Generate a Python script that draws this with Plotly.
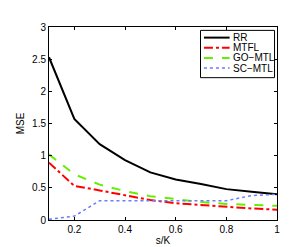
import plotly.graph_objects as go

s_over_K = [0.1, 0.2, 0.3, 0.4, 0.5, 0.6, 0.7, 0.8, 0.9, 1.0]
rr = [2.53, 1.57, 1.18, 0.93, 0.74, 0.63, 0.56, 0.48, 0.44, 0.40]
mtfl = [0.89, 0.53, 0.46, 0.39, 0.31, 0.26, 0.23, 0.20, 0.18, 0.16]
go_mtl = [1.02, 0.71, 0.55, 0.45, 0.37, 0.32, 0.28, 0.25, 0.23, 0.22]
sc_mtl = [0.01, 0.06, 0.30, 0.30, 0.29, 0.30, 0.30, 0.30, 0.38, 0.40]

x_ticks = [0.2, 0.4, 0.6, 0.8, 1.0]
x_tick_labels = ["0.2", "0.4", "0.6", "0.8", "1"]
y_ticks = [0, 0.5, 1, 1.5, 2, 2.5, 3]
y_tick_labels = ["0", "0.5", "1", "1.5", "2", "2.5", "3"]

names = ["RR", "MTFL", "GO\u2212MTL", "SC\u2212MTL"]
series = [rr, mtfl, go_mtl, sc_mtl]
colors = ["#000000", "#ff0000", "#66ee00", "#6a7cff"]
dashes = ["solid", "dashdot", "dash", "dot"]
widths = [2, 2, 2, 1.5]

FONT = "Liberation Sans, Arial, Helvetica, sans-serif"

fig = go.Figure()
for n, ys, c, d, w in zip(names, series, colors, dashes, widths):
    fig.add_trace(go.Scatter(x=s_over_K, y=ys, mode="lines", name=n,
                             line=dict(color=c, dash=d, width=w)))

W, H = 297, 247
ml, mr, mt, mb = 38, 28, 19, 28
pw, ph = W - ml - mr, H - mt - mb

def px(x):
    return (x - ml) / pw

def py(y):
    return 1 - (y - mt) / ph

shapes = [dict(type="rect", xref="paper", yref="paper",
               x0=px(191.5), x1=px(266.5), y0=py(71.5), y1=py(22.5),
               line=dict(color="black", width=1), fillcolor="white")]
annotations = []
rows = [30, 40.5, 51, 61.5]
for n, c, d, w, yy in zip(names, colors, dashes, widths, rows):
    shapes.append(dict(type="line", xref="paper", yref="paper",
                       x0=px(195), x1=px(221), y0=py(yy), y1=py(yy),
                       line=dict(color=c, width=w, dash=d)))
    annotations.append(dict(xref="paper", yref="paper", x=px(222.5), y=py(yy),
                            text=n, showarrow=False, xanchor="left", yanchor="middle",
                            font=dict(family=FONT, size=10, color="black")))

fig.update_layout(
    width=W, height=H,
    margin=dict(l=ml, r=mr, t=mt, b=mb),
    paper_bgcolor="white", plot_bgcolor="white",
    showlegend=False,
    font=dict(family=FONT, size=10, color="black"),
    shapes=shapes, annotations=annotations,
    xaxis=dict(range=[0.1, 1.0], tickvals=x_ticks, ticktext=x_tick_labels,
               showgrid=False, zeroline=False, showline=True, linecolor="black",
               linewidth=1, mirror="ticks", ticks="inside", ticklen=3,
               tickcolor="black", tickfont=dict(size=10),
               title=dict(text="s/K", standoff=1, font=dict(size=10))),
    yaxis=dict(range=[0, 3], tickvals=y_ticks, ticktext=y_tick_labels,
               showgrid=False, zeroline=False, showline=True, linecolor="black",
               linewidth=1, mirror="ticks", ticks="inside", ticklen=3,
               tickcolor="black", tickfont=dict(size=10),
               title=dict(text="MSE", standoff=5, font=dict(size=10))),
)

fig.write_html("out.html")
